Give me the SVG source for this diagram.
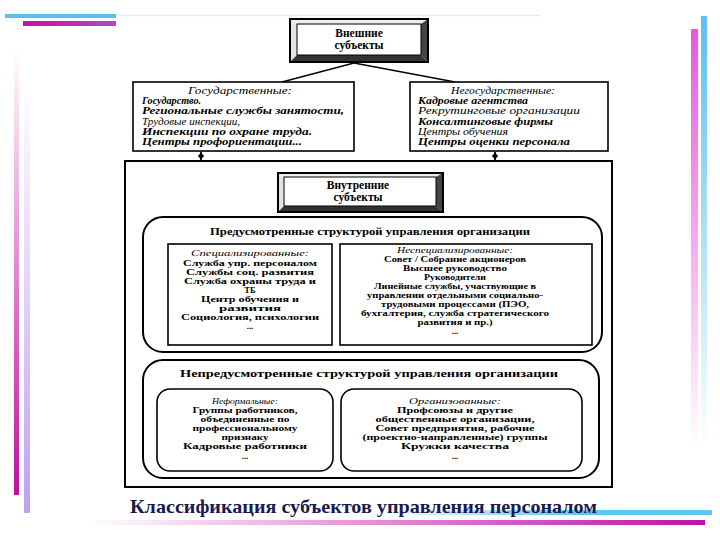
<svg xmlns="http://www.w3.org/2000/svg" width="720" height="540" viewBox="0 0 720 540">
<defs>
<linearGradient id="gMagV" x1="0" y1="0" x2="0" y2="1"><stop offset="0" stop-color="#c0109a" stop-opacity="0"/><stop offset="1" stop-color="#c0109a"/></linearGradient>
<linearGradient id="gLavV" x1="0" y1="0" x2="0" y2="1"><stop offset="0" stop-color="#c8a8f0" stop-opacity="0"/><stop offset="1" stop-color="#c0a0f0"/></linearGradient>
<linearGradient id="gBlueVR" x1="0" y1="0" x2="0" y2="1"><stop offset="0" stop-color="#5bc0ec"/><stop offset="1" stop-color="#5bc0ec" stop-opacity="0"/></linearGradient>
<linearGradient id="gPinkVR" x1="0" y1="0" x2="0" y2="1"><stop offset="0" stop-color="#ee55dd"/><stop offset="1" stop-color="#ee55dd" stop-opacity="0"/></linearGradient>
<linearGradient id="gBlueH" x1="0" y1="0" x2="1" y2="0"><stop offset="0" stop-color="#5bc8ee" stop-opacity="0"/><stop offset="0.6" stop-color="#5bc8ee"/><stop offset="1" stop-color="#5bc8ee"/></linearGradient>
<linearGradient id="gMagH" x1="0" y1="0" x2="1" y2="0"><stop offset="0" stop-color="#c010a8" stop-opacity="0"/><stop offset="1" stop-color="#c010a8"/></linearGradient>
<linearGradient id="gMagTop" x1="0" y1="0" x2="1" y2="0"><stop offset="0" stop-color="#c8129e"/><stop offset="1" stop-color="#b048c8"/></linearGradient>
<marker id="ah" viewBox="0 0 8 8" refX="7" refY="4" markerWidth="6" markerHeight="6" orient="auto-start-reverse" markerUnits="userSpaceOnUse"><path d="M0,0 L8,4 L0,8 Z" fill="#000"/></marker>
</defs>
<style>
.t{font-family:"Liberation Serif","DejaVu Serif",serif;fill:#000;}
.bi{font-weight:bold;font-style:italic;font-size:10.5px;}
.it{font-style:italic;font-size:10.5px;}
.si{font-style:italic;font-size:9px;}
.b{font-weight:bold;font-size:8.6px;}
.hd{font-weight:bold;font-size:10.5px;}
.tt{font-weight:bold;font-size:11.5px;}
.c{text-anchor:middle;}
.box{fill:#fff;stroke:#000;stroke-width:1.6;}
.rbox{fill:#fff;stroke:#000;stroke-width:2;}
.ln{stroke:#000;stroke-width:1.3;fill:none;}
</style>
<rect width="720" height="540" fill="#fff"/>

<!-- decorations -->
<g id="decor">
<line x1="110" y1="15.5" x2="540" y2="15.5" stroke="#dceff8" stroke-width="1.5"/>
<rect x="5" y="14" width="111" height="4" fill="#5bc0e8"/>
<rect x="23" y="21" width="93" height="5" fill="url(#gMagTop)"/>
<rect x="14" y="50" width="5" height="445" fill="url(#gMagV)"/>
<rect x="24" y="77" width="6" height="436" fill="url(#gLavV)"/>
<rect x="701" y="16" width="6" height="430" fill="url(#gBlueVR)"/>
<rect x="691" y="29" width="7" height="421" fill="url(#gPinkVR)"/>
<rect x="380" y="510" width="332" height="5" fill="url(#gBlueH)"/>
<rect x="85" y="520" width="620" height="5" fill="url(#gMagH)"/>
</g>

<!-- connectors -->
<g id="connectors">
<line class="ln" x1="354" y1="63" x2="282" y2="82"/>
<line class="ln" x1="354" y1="63" x2="455" y2="82"/>
<line class="ln" x1="201" y1="152" x2="201" y2="160" marker-start="url(#ah)" marker-end="url(#ah)"/>
<line class="ln" x1="495" y1="152" x2="495" y2="160" marker-start="url(#ah)" marker-end="url(#ah)"/>
</g>

<g id="external">
<rect x="290" y="19" width="138" height="43" fill="#fff" stroke="#000" stroke-width="2"/>
<polygon points="290,19 428,19 421,24 297,24" fill="#eee"/>
<polygon points="290,19 297,24 297,55 290,62" fill="#e4e4e4"/>
<polygon points="428,19 428,62 421,55 421,24" fill="#444"/>
<polygon points="290,62 428,62 421,55 297,55" fill="#333"/>
<rect x="297" y="24" width="124" height="31" fill="#fff" stroke="#000" stroke-width="1"/>
<rect x="290" y="19" width="138" height="43" fill="none" stroke="#000" stroke-width="2"/>
<text class="t tt c" x="359" y="37">Внешние</text>
<text class="t tt c" x="359" y="49">субъекты</text>
</g>

<g id="state">
<rect class="box" x="133" y="82" width="221" height="69"/>
<text class="t it c" x="240" y="93.5" textLength="104" lengthAdjust="spacingAndGlyphs">Государственные:</text>
<text class="t bi" x="142" y="104" textLength="59" lengthAdjust="spacingAndGlyphs">Государство.</text>
<text class="t bi" x="142" y="114" textLength="202" lengthAdjust="spacingAndGlyphs">Региональные службы занятости,</text>
<text class="t it" x="142" y="124.5" textLength="98" lengthAdjust="spacingAndGlyphs">Трудовые инспекции,</text>
<text class="t bi" x="142" y="134.5" textLength="170" lengthAdjust="spacingAndGlyphs">Инспекции по охране труда.</text>
<text class="t bi" x="142" y="144.5" textLength="160" lengthAdjust="spacingAndGlyphs">Центры профориентации...</text>
</g>

<g id="nonstate">
<rect class="box" x="410" y="82" width="198" height="69"/>
<text class="t it c" x="503" y="93.5" textLength="104" lengthAdjust="spacingAndGlyphs">Негосударственные:</text>
<text class="t bi" x="418" y="104" textLength="110" lengthAdjust="spacingAndGlyphs">Кадровые агентства</text>
<text class="t it" x="418" y="114" textLength="162" lengthAdjust="spacingAndGlyphs">Рекрутинговые организации</text>
<text class="t bi" x="418" y="124.5" textLength="135" lengthAdjust="spacingAndGlyphs">Консалтинговые фирмы</text>
<text class="t it" x="418" y="134.5" textLength="90" lengthAdjust="spacingAndGlyphs">Центры обучения</text>
<text class="t bi" x="418" y="144.5" textLength="152" lengthAdjust="spacingAndGlyphs">Центры оценки персонала</text>
</g>

<g id="internal-frame">
<rect x="125" y="161" width="487" height="326" fill="#fff" stroke="#000" stroke-width="2"/>
</g>

<g id="internal">
<rect x="278" y="173" width="165" height="39" fill="#fff" stroke="#000" stroke-width="2"/>
<polygon points="278,173 443,173 436,177 284,177" fill="#eee"/>
<polygon points="278,173 284,177 284,206 278,212" fill="#e4e4e4"/>
<polygon points="443,173 443,212 436,206 436,177" fill="#444"/>
<polygon points="278,212 443,212 436,206 284,206" fill="#333"/>
<rect x="284" y="177" width="152" height="29" fill="#fff" stroke="#000" stroke-width="1"/>
<rect x="278" y="173" width="165" height="39" fill="none" stroke="#000" stroke-width="2"/>
<text class="t tt c" x="358" y="189">Внутренние</text>
<text class="t tt c" x="358" y="201">субъекты</text>
</g>

<g id="provided">
<rect class="rbox" x="143" y="217" width="459" height="135" rx="20" ry="20"/>
<text class="t hd c" x="370" y="235" textLength="320" lengthAdjust="spacingAndGlyphs">Предусмотренные структурой управления организации</text>
</g>

<g id="specialized">
<rect class="box" x="168" y="244" width="164" height="101"/>
<text class="t si c" x="250" y="256" textLength="118" lengthAdjust="spacingAndGlyphs">Специализированные:</text>
<text class="t b c" x="250" y="265.5" textLength="134" lengthAdjust="spacingAndGlyphs">Служба упр. персоналом</text>
<text class="t b c" x="250" y="274.5" textLength="128" lengthAdjust="spacingAndGlyphs">Службы соц. развития</text>
<text class="t b c" x="250" y="283.5" textLength="132" lengthAdjust="spacingAndGlyphs">Служба охраны труда и</text>
<text class="t b c" x="250" y="292.5">ТБ</text>
<text class="t b c" x="250" y="301.5" textLength="98" lengthAdjust="spacingAndGlyphs">Центр обучения и</text>
<text class="t b c" x="250" y="310.5" textLength="62" lengthAdjust="spacingAndGlyphs">развития</text>
<text class="t b c" x="250" y="319.5" textLength="138" lengthAdjust="spacingAndGlyphs">Социология, психологии</text>
<text class="t b c" x="250" y="328.5">...</text>
</g>

<g id="nonspecialized">
<rect class="box" x="340" y="244" width="252" height="101"/>
<text class="t si c" x="455" y="253" textLength="116" lengthAdjust="spacingAndGlyphs">Неспециализированные:</text>
<text class="t b c" x="455" y="262" textLength="142" lengthAdjust="spacingAndGlyphs">Совет / Собрание акционеров</text>
<text class="t b c" x="455" y="271" textLength="104" lengthAdjust="spacingAndGlyphs">Высшее руководство</text>
<text class="t b c" x="455" y="280" textLength="62" lengthAdjust="spacingAndGlyphs">Руководители</text>
<text class="t b c" x="455" y="289" textLength="162" lengthAdjust="spacingAndGlyphs">Линейные службы, участвующие в</text>
<text class="t b c" x="455" y="298" textLength="176" lengthAdjust="spacingAndGlyphs">управлении отдельными социально-</text>
<text class="t b c" x="455" y="307" textLength="148" lengthAdjust="spacingAndGlyphs">трудовыми процессами (ПЭО,</text>
<text class="t b c" x="455" y="316" textLength="188" lengthAdjust="spacingAndGlyphs">бухгалтерия, служба стратегического</text>
<text class="t b c" x="455" y="325" textLength="75" lengthAdjust="spacingAndGlyphs">развития и пр.)</text>
<text class="t b c" x="455" y="334">...</text>
</g>

<g id="unprovided">
<rect class="rbox" x="143" y="360" width="456" height="118" rx="20" ry="20"/>
<text class="t hd c" x="369" y="377" textLength="378" lengthAdjust="spacingAndGlyphs">Непредусмотренные структурой управления организации</text>
</g>

<g id="informal">
<rect class="box" x="157" y="389" width="176" height="82" rx="13" ry="13"/>
<text class="t si c" x="245" y="404" textLength="66" lengthAdjust="spacingAndGlyphs">Неформальные:</text>
<text class="t b c" x="245" y="413" textLength="105" lengthAdjust="spacingAndGlyphs">Группы работников,</text>
<text class="t b c" x="245" y="422" textLength="89" lengthAdjust="spacingAndGlyphs">объединенные по</text>
<text class="t b c" x="245" y="431" textLength="105" lengthAdjust="spacingAndGlyphs">профессиональному</text>
<text class="t b c" x="245" y="440" textLength="47" lengthAdjust="spacingAndGlyphs">признаку</text>
<text class="t b c" x="245" y="449" textLength="124" lengthAdjust="spacingAndGlyphs">Кадровые работники</text>
<text class="t b c" x="245" y="459">...</text>
</g>

<g id="organized">
<rect class="box" x="341" y="389" width="241" height="82" rx="13" ry="13"/>
<text class="t si c" x="455" y="404" textLength="92" lengthAdjust="spacingAndGlyphs">Организованные:</text>
<text class="t b c" x="455" y="413" textLength="116" lengthAdjust="spacingAndGlyphs">Профсоюзы и другие</text>
<text class="t b c" x="455" y="422" textLength="159" lengthAdjust="spacingAndGlyphs">общественные организации,</text>
<text class="t b c" x="455" y="431" textLength="159" lengthAdjust="spacingAndGlyphs">Совет предприятия, рабочие</text>
<text class="t b c" x="455" y="440" textLength="185" lengthAdjust="spacingAndGlyphs">(проектно-направленные) группы</text>
<text class="t b c" x="455" y="449" textLength="108" lengthAdjust="spacingAndGlyphs">Кружки качества</text>
<text class="t b c" x="455" y="459">...</text>
</g>

<text x="130" y="513" font-family="'Liberation Serif','DejaVu Serif',serif" font-weight="bold" font-size="19" fill="#1a1a4e" textLength="467" lengthAdjust="spacingAndGlyphs">Классификация субъектов управления персоналом</text>
</svg>
